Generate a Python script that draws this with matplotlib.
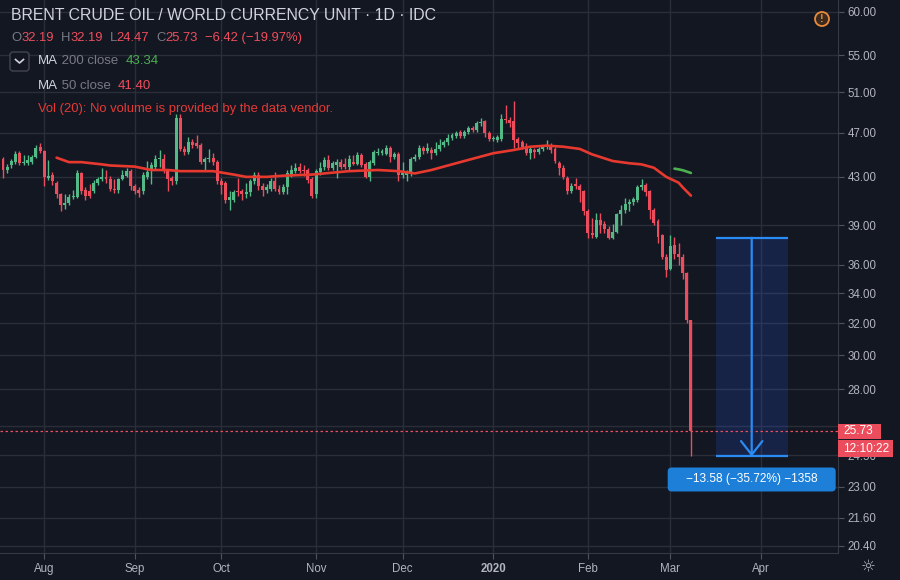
import numpy as np
import pandas as pd
import matplotlib
matplotlib.use('Agg')
import matplotlib.pyplot as plt
from matplotlib.transforms import IdentityTransform
from matplotlib.patches import FancyBboxPatch, Rectangle, Circle
from matplotlib.lines import Line2D
from matplotlib.ticker import FixedLocator, NullLocator, FixedFormatter

plt.rcParams['font.family'] = ['Liberation Sans', 'DejaVu Sans']

# daily bars, 18 Jul 2019 .. 9 Mar 2020
dates = pd.bdate_range('2019-07-18', periods=168)

opens = [44.6, 43.6, 44.0, 44.3, 45.1, 44.2, 44.2, 44.3, 44.8, 45.7,
         45.3, 42.9, 43.2, 42.5, 41.5, 40.6, 40.8, 41.3, 41.3, 43.3,
         41.9, 41.8, 41.8, 42.5, 42.8, 43.0, 42.8, 42.0, 41.9, 42.8,
         43.1, 43.5, 42.2, 41.9, 41.8, 43.0, 43.5, 43.9, 44.6, 44.6,
         43.5, 42.9, 42.6, 48.4, 45.5, 45.2, 46.1, 46.0, 45.9, 44.3,
         44.6, 44.7, 44.3, 42.6, 42.5, 41.0, 41.0, 41.8, 41.8, 41.5,
         41.7, 42.6, 43.2, 42.2, 41.9, 42.0, 42.6, 42.0, 41.7, 42.1,
         43.2, 43.5, 43.9, 43.6, 43.6, 42.8, 41.5, 43.4, 43.9, 44.5,
         43.8, 44.0, 44.3, 44.1, 43.9, 44.3, 44.1, 44.9, 44.1, 43.0,
         44.2, 45.1, 45.1, 45.0, 45.6, 44.8, 45.0, 43.2, 43.2, 43.3,
         44.6, 44.8, 45.6, 45.3, 45.4, 45.1, 45.5, 45.9, 46.1, 46.5,
         46.7, 47.1, 46.7, 47.1, 47.5, 47.3, 47.9, 48.1, 47.0, 46.4,
         46.3, 46.4, 48.3, 48.2, 48.1, 46.4, 46.1, 45.8, 45.1, 45.4,
         45.2, 45.5, 45.7, 45.8, 45.5, 44.2, 43.8, 42.9, 41.8, 42.4,
         42.2, 41.8, 40.1, 38.4, 38.1, 39.4, 39.1, 38.7, 38.0, 38.5,
         39.9, 40.2, 40.7, 40.9, 41.0, 42.1, 42.3, 41.8, 40.2, 39.3,
         38.2, 36.6, 35.7, 37.5, 36.8, 36.6, 35.4, 32.19]
highs = [44.8, 44.1, 44.6, 45.3, 45.3, 44.9, 44.9, 44.9, 45.9, 46.0,
         45.4, 44.5, 43.4, 42.6, 41.6, 41.5, 41.5, 41.9, 43.6, 43.4,
         42.1, 42.4, 42.7, 43.0, 43.8, 43.6, 43.1, 42.8, 42.9, 43.6,
         43.8, 43.7, 42.4, 42.1, 43.4, 44.4, 44.3, 44.9, 45.4, 45.0,
         43.7, 43.1, 48.8, 48.8, 45.8, 46.6, 46.4, 46.8, 46.0, 44.8,
         45.5, 45.1, 44.5, 42.9, 42.6, 41.8, 41.9, 42.9, 42.0, 42.5,
         42.8, 43.4, 43.4, 42.5, 42.4, 42.9, 43.4, 42.3, 42.4, 43.6,
         44.0, 44.2, 44.2, 44.0, 43.8, 43.0, 43.7, 44.3, 44.8, 44.9,
         44.4, 44.6, 44.6, 44.7, 44.9, 44.9, 45.2, 45.1, 44.3, 44.5,
         45.4, 45.6, 45.5, 45.9, 45.8, 45.2, 45.2, 44.3, 43.6, 44.8,
         45.0, 45.9, 45.8, 46.0, 45.7, 46.1, 46.4, 46.3, 46.9, 47.0,
         47.2, 47.3, 47.3, 47.7, 47.7, 48.1, 48.4, 48.2, 47.2, 46.7,
         46.8, 48.8, 49.7, 48.5, 50.1, 46.6, 46.3, 46.0, 45.7, 45.6,
         45.7, 45.9, 46.3, 46.0, 45.7, 44.4, 44.0, 43.1, 42.5, 42.9,
         42.4, 41.9, 40.3, 39.6, 40.0, 40.0, 39.3, 38.9, 39.1, 40.0,
         40.6, 41.2, 41.1, 41.3, 42.3, 42.8, 42.5, 41.9, 40.4, 39.5,
         38.3, 36.8, 38.2, 38.1, 37.6, 36.8, 35.5, 32.19]
lows = [42.9, 43.3, 43.8, 44.1, 44.0, 44.0, 44.0, 44.1, 44.7, 45.1,
        42.2, 42.7, 42.3, 41.2, 40.1, 40.3, 40.6, 41.1, 41.2, 41.5,
        41.0, 41.2, 41.6, 42.3, 42.6, 42.5, 41.8, 41.6, 41.6, 42.7,
        43.0, 41.9, 41.5, 41.3, 41.5, 42.8, 42.4, 43.7, 43.9, 43.3,
        41.8, 42.3, 42.4, 45.3, 44.9, 45.0, 45.6, 45.6, 44.1, 43.6,
        44.3, 44.0, 42.4, 41.5, 40.8, 40.2, 40.9, 41.4, 41.0, 41.2,
        41.4, 42.4, 41.9, 41.4, 41.6, 41.8, 41.8, 41.5, 41.5, 41.5,
        43.0, 43.3, 43.3, 43.1, 42.5, 41.2, 41.2, 43.2, 43.6, 43.6,
        43.6, 42.9, 43.7, 43.7, 43.5, 44.0, 44.0, 43.9, 42.9, 42.6,
        44.0, 44.9, 44.9, 44.9, 44.3, 44.6, 42.6, 42.9, 42.6, 43.1,
        44.4, 44.6, 45.0, 45.1, 44.6, 44.9, 45.3, 45.7, 45.9, 46.3,
        46.5, 46.5, 46.5, 46.9, 47.1, 47.1, 47.7, 46.6, 46.2, 46.2,
        46.1, 46.2, 47.9, 47.6, 45.6, 45.5, 45.5, 44.9, 44.6, 44.7,
        45.0, 45.3, 45.5, 45.1, 44.2, 43.2, 42.8, 41.5, 41.6, 42.0,
        40.9, 39.8, 38.0, 38.0, 38.0, 38.4, 38.4, 37.9, 37.9, 38.4,
        39.0, 40.0, 40.1, 40.6, 40.9, 41.9, 41.4, 39.5, 39.0, 37.6,
        36.4, 35.1, 35.6, 36.4, 36.0, 35.0, 32.0, 24.47]
closes = [43.6, 43.9, 44.4, 45.0, 44.2, 44.3, 44.5, 44.8, 45.6, 45.3,
          43.0, 43.1, 42.6, 41.5, 40.6, 40.8, 41.3, 41.4, 43.3, 41.8,
          41.4, 41.4, 42.5, 42.8, 43.0, 42.8, 42.0, 41.9, 42.8, 43.2,
          43.5, 42.2, 41.8, 41.6, 43.2, 43.4, 44.0, 44.6, 44.7, 43.5,
          42.8, 42.6, 48.4, 45.5, 45.2, 46.1, 45.9, 45.8, 44.3, 44.6,
          44.7, 44.3, 42.6, 42.3, 41.0, 41.3, 41.7, 41.7, 41.5, 41.7,
          42.6, 43.2, 42.2, 41.9, 42.1, 42.6, 42.0, 41.7, 42.1, 43.3,
          43.6, 43.8, 43.5, 43.5, 42.7, 41.4, 43.5, 43.8, 44.5, 43.8,
          44.2, 44.3, 43.9, 43.9, 44.6, 44.1, 44.9, 44.0, 43.0, 44.3,
          45.2, 45.2, 45.3, 45.6, 44.8, 45.0, 43.2, 43.3, 43.4, 44.6,
          44.8, 45.6, 45.3, 45.6, 45.1, 45.5, 45.9, 46.1, 46.5, 46.8,
          47.0, 46.7, 47.1, 47.5, 47.3, 47.9, 48.0, 47.0, 46.4, 46.5,
          46.6, 48.3, 48.2, 47.9, 46.3, 46.0, 45.7, 45.1, 45.5, 45.2,
          45.5, 45.7, 45.8, 45.4, 44.4, 43.8, 43.0, 41.8, 42.2, 42.2,
          41.9, 40.1, 38.4, 38.2, 39.4, 39.0, 38.7, 38.0, 38.5, 39.9,
          40.2, 40.7, 40.9, 41.1, 42.1, 42.3, 41.7, 40.2, 39.2, 38.1,
          36.6, 35.6, 37.4, 36.8, 36.6, 35.4, 32.2, 25.73]

# moving averages (bar index, value)
ma50_bars = [13, 16, 19, 24, 26, 32, 36, 40, 43, 51, 56, 59, 64, 68, 75, 84, 91, 96, 100,
             104, 108, 113, 119, 124, 128, 132, 136, 140, 143, 148, 152, 155, 158, 161,
             164, 165, 167]
ma50_vals = [44.7, 44.3, 44.3, 44.1, 44.0, 43.9, 43.6, 43.6, 43.5, 43.5, 43.2, 43.0, 43.0,
             43.1, 43.2, 43.5, 43.6, 43.5, 43.3, 43.6, 44.0, 44.5, 45.1, 45.4, 45.7, 45.8,
             45.7, 45.5, 45.0, 44.4, 44.2, 44.1, 43.8, 43.0, 42.5, 42.1, 41.40]
ma200_bars = [163, 164, 165, 166, 167]
ma200_vals = [43.72, 43.66, 43.58, 43.46, 43.34]

price_ticks = [60, 55, 51, 47, 43, 39, 36, 34, 32, 30, 28, 26, 24.5, 23, 21.6, 20.4]
month_labels = ['Aug', 'Sep', 'Oct', 'Nov', 'Dec', '2020', 'Feb', 'Mar', 'Apr']

# measure drawing (price range tool)
measure_start = 38.02
measure_end = 24.44
measure_bars = (173, 190.5)
tick_size = 0.01

BG = '#131722'
GRID = '#2a2e39'
UP = '#53b987'
DOWN = '#eb4d5c'
TXT = '#b2b5be'
W, H = 900, 580

fig = plt.figure(figsize=(9, 5.8), dpi=100, facecolor=BG)
ax = fig.add_axes([0, 27 / H, 838 / W, 553 / H], facecolor=BG)
ax.set_yscale('log')
ax.set_ylim(20.11, 61.47)
ax.set_xlim(-0.73, 202.7)

idx = np.arange(len(dates))
o = np.array(opens); c = np.array(closes)
hi = np.array(highs); lo = np.array(lows)
up = c >= o
cols = np.where(up, UP, DOWN)
ax.vlines(idx, lo, hi, colors=cols, lw=1, zorder=3)
ax.bar(idx, np.maximum(np.abs(c - o), 0.06), bottom=np.minimum(o, c), width=0.72,
       color=cols, linewidth=0, zorder=4)

ax.plot(ma50_bars, ma50_vals, color='#e8392f', lw=1.9, zorder=5, solid_capstyle='round')
ax.plot(ma200_bars, ma200_vals, color='#4caf50', lw=1.9, zorder=5, solid_capstyle='round')

# month ticks
full = pd.bdate_range('2019-07-18', '2020-04-30')
month_pos = [i for i in range(1, len(full)) if full[i].month != full[i - 1].month]
ax.xaxis.set_major_locator(FixedLocator(month_pos))
ax.set_xticklabels(month_labels)
for lab in ax.get_xticklabels():
    if lab.get_text() == '2020':
        lab.set_fontweight('bold')
        lab.set_color('#d1d4dc')

# the 26.00 label sits under the last-price tag in the original
last = closes[-1]
price_labels = ['' if abs(p - last) < 0.5 else f'{p:.2f}' for p in price_ticks]
ax.yaxis.tick_right()
ax.yaxis.set_major_locator(FixedLocator(price_ticks))
ax.yaxis.set_minor_locator(NullLocator())
ax.yaxis.set_major_formatter(FixedFormatter(price_labels))
ax.tick_params(axis='both', colors='#50535e', labelcolor=TXT, labelsize=8.3, length=4)
ax.tick_params(axis='x', pad=3)
ax.tick_params(axis='y', pad=3)
ax.grid(True, color=GRID, lw=1, zorder=0)
ax.set_axisbelow(True)
for s in ['top', 'left']:
    ax.spines[s].set_visible(False)
for s in ['right', 'bottom']:
    ax.spines[s].set_color('#363a45')

# last price line and tags
ax.axhline(last, color=DOWN, lw=0.9, ls=(0, (2, 2)), zorder=6)
_, ly = ax.transData.transform((0, last))
fig.add_artist(Rectangle((838, ly - 7.5), 43, 15, fc=DOWN, ec='none',
                         transform=IdentityTransform(), zorder=10))
fig.text(843, ly, f'{last:.2f}', color='white', fontsize=8.6, ha='left', va='center',
         transform=IdentityTransform(), zorder=11)
fig.add_artist(Rectangle((838, ly - 26), 55, 17, fc=DOWN, ec='none',
                         transform=IdentityTransform(), zorder=10))
fig.text(843, ly - 17.5, '12:10:22', color='white', fontsize=8.6, ha='left', va='center',
         transform=IdentityTransform(), zorder=11)

# measure tool
BLUE = '#2a8bf2'
x0, x1 = measure_bars
ax.add_patch(Rectangle((x0, measure_end), x1 - x0, measure_start - measure_end,
                       fc='#2962ff', alpha=0.17, ec='none', zorder=2))
ax.hlines([measure_start, measure_end], x0, x1, colors=BLUE, lw=1.6, zorder=7)
xm = (x0 + x1) / 2
ax.annotate('', xy=(xm, measure_end), xytext=(xm, measure_start),
            arrowprops=dict(arrowstyle='->,head_length=0.7,head_width=0.55', color=BLUE,
                            lw=1.6, shrinkA=0, shrinkB=0, mutation_scale=14), zorder=7)
diff = measure_end - measure_start
label = f'\u2212{abs(diff):.2f} (\u2212{abs(diff) / measure_start * 100:.2f}%) \u2212{abs(diff) / tick_size:.0f}'
cx, cy = ax.transData.transform((xm, measure_end))
cy -= 23
fig.add_artist(FancyBboxPatch((cx - 84, cy - 12), 168, 24,
                              boxstyle='round,pad=0,rounding_size=4', fc='#1e7fd8', ec='none',
                              transform=IdentityTransform(), zorder=8))
fig.text(cx, cy, label, color='white', fontsize=8.6, ha='center', va='center',
         transform=IdentityTransform(), zorder=9)

# header texts
renderer = fig.canvas.get_renderer()


def text_run(x, y, parts, size):
    # parts: (text, colour) pairs, or a number meaning extra pixels of space
    for part in parts:
        if isinstance(part, (int, float)):
            x += part
            continue
        s, col = part
        t = fig.text(x, H - y, s, color=col, fontsize=size, va='center', ha='left',
                     transform=IdentityTransform(), zorder=9)
        x = t.get_window_extent(renderer).x1


RED = '#f04d5b'
GRAY = '#787b86'
text_run(11, 16, [('BRENT CRUDE OIL / WORLD CURRENCY UNIT \u00b7 1D \u00b7 IDC', '#d1d4dc')], 11.4)
text_run(11, 38, [('O', GRAY), ('32.19', RED), 7, ('H', GRAY), ('32.19', RED), 7,
                  ('L', GRAY), ('24.47', RED), 7, ('C', GRAY), ('25.73', RED), 7,
                  ('\u22126.42 (\u221219.97%)', RED)], 9.4)
text_run(38, 61, [('MA', '#d1d4dc'), (' 200 close  ', GRAY), ('43.34', '#4caf50')], 9.5)
text_run(38, 86, [('MA', '#d1d4dc'), (' 50 close  ', GRAY), ('41.40', RED)], 9.5)
text_run(38, 109, [('Vol (20): No volume is provided by the data vendor.', '#e53935')], 9.4)

fig.add_artist(FancyBboxPatch((10, H - 71), 19, 19, boxstyle='round,pad=0,rounding_size=3',
                              fc=BG, ec='#434651', lw=1, transform=IdentityTransform()))
fig.add_artist(Line2D([15.5, 19.5, 23.5], [H - 59.5, H - 63, H - 59.5], color='#d1d4dc',
                      lw=1.2, transform=IdentityTransform()))

fig.add_artist(Circle((822, H - 19), 7, fc='#3d2a1f', ec='#e98a3c', lw=1.3,
                      transform=IdentityTransform()))
fig.text(822, H - 19.5, '!', color='#e98a3c', fontsize=8, fontweight='bold',
         ha='center', va='center', transform=IdentityTransform())
fig.text(868, H - 567, '\u263c', color=TXT, fontsize=12, ha='center', va='center',
         family='DejaVu Sans', transform=IdentityTransform())

fig.savefig('out.png', dpi=100, facecolor=BG)
